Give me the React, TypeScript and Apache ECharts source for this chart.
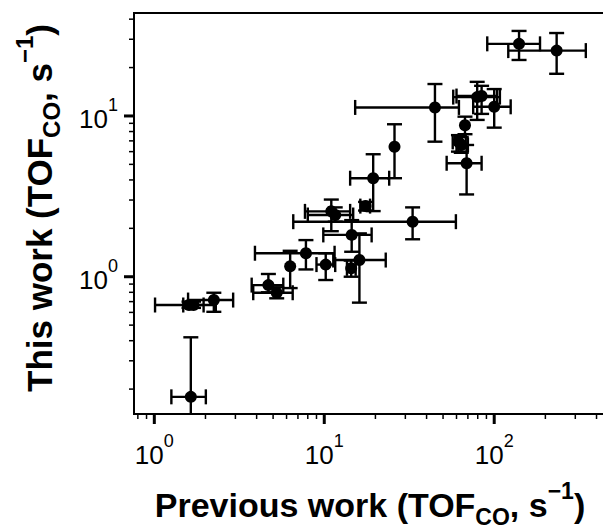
import React, { useEffect, useRef } from 'react';
import * as echarts from 'echarts';

// Data: TOF_CO previous work (x) vs this work (y), with error bounds
const pointX = [1.64, 1.60, 1.70, 2.24, 4.69, 5.25, 6.3, 7.8, 10.2, 14.4, 16.1, 14.5, 11.0, 11.6, 17.5, 19.4, 25.9, 33.1, 44.8, 79.4, 84.3, 100, 67.3, 61.6, 64.0, 68.8, 140, 233];
const pointY = [0.179, 0.667, 0.667, 0.716, 0.887, 0.795, 1.16, 1.40, 1.19, 1.128, 1.27, 1.82, 2.55, 2.42, 2.75, 4.1, 6.44, 2.2, 11.3, 13.1, 13.3, 11.4, 8.75, 6.9, 6.6, 5.08, 28.1, 25.5];
const xLow = [1.26, 1.01, 1.48, 1.58, 3.74, 3.82, 6.3, 3.91, 9.0, 13.6, 11.3, 9.87, 7.7, 8.0, 16.3, 14.2, 25.9, 6.57, 15.2, 57.4, 60, 75.2, 67.3, 57, 60, 52.5, 91, 121];
const xHigh = [2.01, 2.3, 1.95, 2.91, 5.74, 6.52, 6.3, 11.5, 11.6, 15.3, 23.0, 19.0, 14.2, 14.8, 18.6, 24.1, 25.9, 59.5, 62, 108, 104, 125, 67.3, 68, 70, 84.3, 186, 346];
const yLow = [0.10, 0.64, 0.64, 0.605, 0.80, 0.734, 0.85, 1.11, 0.954, 1.0, 0.69, 1.43, 1.92, 2.2, 2.58, 2.56, 4.1, 1.71, 6.92, 9.45, 10.3, 8.46, 7.7, 6.0, 5.9, 3.25, 22.3, 18.3];
const yHigh = [0.42, 0.70, 0.70, 0.795, 1.04, 0.86, 1.45, 1.69, 1.40, 1.26, 1.86, 2.25, 3.02, 2.7, 2.92, 5.78, 8.88, 2.7, 15.8, 16.3, 15.4, 14.7, 9.9, 7.6, 7.4, 6.6, 33.8, 32.8];

const xMajorTicks = [1, 10, 100];
const xMinorTicks = [0.8, 0.9, 2, 3, 4, 5, 6, 7, 8, 9, 20, 30, 40, 50, 60, 70, 80, 90, 200, 300, 400];
const yMajorTicks = [1, 10];
const yMinorTicks = [0.2, 0.3, 0.4, 0.5, 0.6, 0.7, 0.8, 0.9, 2, 3, 4, 5, 6, 7, 8, 9, 20, 30, 40];

const X_MIN = 0.7594;
const X_MAX = 500;
const Y_MIN = 0.14;
const Y_MAX = 43.7;

const FONT = "'Liberation Sans', Arial, Helvetica, sans-serif";

const powerLabel = (v: number) => {
  const e = Math.log10(v);
  const r = Math.round(e);
  if (Math.abs(e - r) < 1e-6) return `{b|10}{s|${r}}`;
  return '';
};

const labelRich = {
  b: { fontSize: 26, fontFamily: FONT, color: '#000', padding: [6, 0, 0, 0] },
  s: { fontSize: 18, fontFamily: FONT, color: '#000', padding: [0, 0, 22, 0] },
};

const titleRich = (size: number) => ({
  m: { fontSize: size, fontWeight: 'bold', fontFamily: FONT, fill: '#000' },
  sub: { fontSize: Math.round(size * 0.68), fontWeight: 'bold', fontFamily: FONT, fill: '#000', padding: [Math.round(size * 0.7), 0, 0, 0] },
  sup: { fontSize: Math.round(size * 0.68), fontWeight: 'bold', fontFamily: FONT, fill: '#000', padding: [0, 0, Math.round(size * 0.86), 0] },
});

export default function App() {
  const ref = useRef<HTMLDivElement>(null);

  useEffect(() => {
    if (!ref.current) return;
    const chart = echarts.init(ref.current, null, { renderer: 'svg' });

    const errData = pointX.map((x, i) => [x, pointY[i], xLow[i], xHigh[i], yLow[i], yHigh[i]]);
    const xTickData = [
      ...xMajorTicks.map((v) => [v, Y_MIN, 1]),
      ...xMinorTicks.map((v) => [v, Y_MIN, 0]),
    ];
    const yTickData = [
      ...yMajorTicks.map((v) => [X_MIN, v, 1]),
      ...yMinorTicks.map((v) => [X_MIN, v, 0]),
    ];

    const option: any = {
      animation: false,
      backgroundColor: '#fff',
      grid: {
        left: 134,
        top: 13,
        right: -10,
        bottom: 115,
        show: true,
        borderColor: '#000',
        borderWidth: 2,
        containLabel: false,
        outerBoundsMode: 'none',
      },
      xAxis: {
        type: 'log',
        logBase: 10,
        min: X_MIN,
        max: X_MAX,
        axisLine: { show: true, onZero: false, lineStyle: { color: '#000', width: 2 } },
        axisTick: { show: false },
        splitLine: { show: false },
        minorTick: { show: false },
        axisLabel: { formatter: powerLabel, rich: labelRich, margin: 18, color: '#000' },
      },
      yAxis: {
        type: 'log',
        logBase: 10,
        min: Y_MIN,
        max: Y_MAX,
        axisLine: { show: true, onZero: false, lineStyle: { color: '#000', width: 2 } },
        axisTick: { show: false },
        splitLine: { show: false },
        minorTick: { show: false },
        axisLabel: { formatter: powerLabel, rich: labelRich, margin: 16, color: '#000' },
      },
      series: [
        {
          type: 'custom',
          name: 'errors',
          clip: true,
          data: errData,
          encode: { x: 0, y: 1 },
          z: 2,
          renderItem: (params: any, api: any) => {
            const x = api.value(0), y = api.value(1);
            const xl = api.value(2), xh = api.value(3), yl = api.value(4), yh = api.value(5);
            const style = { stroke: '#000', lineWidth: 2.4 };
            const cap = 7.5;
            const children: any[] = [];
            if (xh > xl) {
              const l = api.coord([xl, y]);
              const r = api.coord([xh, y]);
              children.push({ type: 'line', shape: { x1: l[0], y1: l[1], x2: r[0], y2: r[1] }, style });
              children.push({ type: 'line', shape: { x1: l[0], y1: l[1] - cap, x2: l[0], y2: l[1] + cap }, style });
              children.push({ type: 'line', shape: { x1: r[0], y1: r[1] - cap, x2: r[0], y2: r[1] + cap }, style });
            }
            if (yh > yl) {
              const b = api.coord([x, yl]);
              const t = api.coord([x, yh]);
              children.push({ type: 'line', shape: { x1: b[0], y1: b[1], x2: t[0], y2: t[1] }, style });
              children.push({ type: 'line', shape: { x1: b[0] - cap, y1: b[1], x2: b[0] + cap, y2: b[1] }, style });
              children.push({ type: 'line', shape: { x1: t[0] - cap, y1: t[1], x2: t[0] + cap, y2: t[1] }, style });
            }
            return { type: 'group', children };
          },
        },
        {
          type: 'scatter',
          name: 'points',
          data: pointX.map((x, i) => [x, pointY[i]]),
          symbol: 'circle',
          symbolSize: 12,
          itemStyle: { color: '#000', opacity: 1 },
          z: 3,
        },
        {
          type: 'custom',
          name: 'xticks',
          clip: false,
          silent: true,
          data: xTickData,
          encode: { x: 0, y: 1 },
          renderItem: (params: any, api: any) => {
            const p = api.coord([api.value(0), api.value(1)]);
            const major = api.value(2) === 1;
            return {
              type: 'line',
              shape: { x1: p[0], y1: p[1] + 1, x2: p[0], y2: p[1] + (major ? 10 : 5) },
              style: { stroke: '#000', lineWidth: major ? 3 : 1.5 },
            };
          },
        },
        {
          type: 'custom',
          name: 'yticks',
          clip: false,
          silent: true,
          data: yTickData,
          encode: { x: 0, y: 1 },
          renderItem: (params: any, api: any) => {
            const p = api.coord([api.value(0), api.value(1)]);
            const major = api.value(2) === 1;
            return {
              type: 'line',
              shape: { x1: p[0] - 1, y1: p[1], x2: p[0] - (major ? 10 : 5), y2: p[1] },
              style: { stroke: '#000', lineWidth: major ? 3 : 1.5 },
            };
          },
        },
      ],
      graphic: [
        {
          type: 'text',
          x: 370,
          y: 505,
          silent: true,
          style: {
            legacy: false,
            text: '{m|Previous work (TOF}{sub|CO}{m|, s}{sup|−1}{m|)}',
            rich: titleRich(34),
            align: 'center',
            verticalAlign: 'middle',
            fill: '#000',
          },
        },
        {
          type: 'text',
          x: 39,
          y: 208,
          rotation: Math.PI / 2,
          silent: true,
          style: {
            legacy: false,
            text: '{m|This work (TOF}{sub|CO}{m|, s}{sup|−1}{m|)}',
            rich: titleRich(35),
            align: 'center',
            verticalAlign: 'middle',
            fill: '#000',
          },
        },
      ],
    };

    chart.setOption(option);
    return () => chart.dispose();
  }, []);

  return (
    <div
      ref={ref}
      style={{ position: 'fixed', left: 0, top: 0, width: 603, height: 529, background: '#fff' }}
    />
  );
}
